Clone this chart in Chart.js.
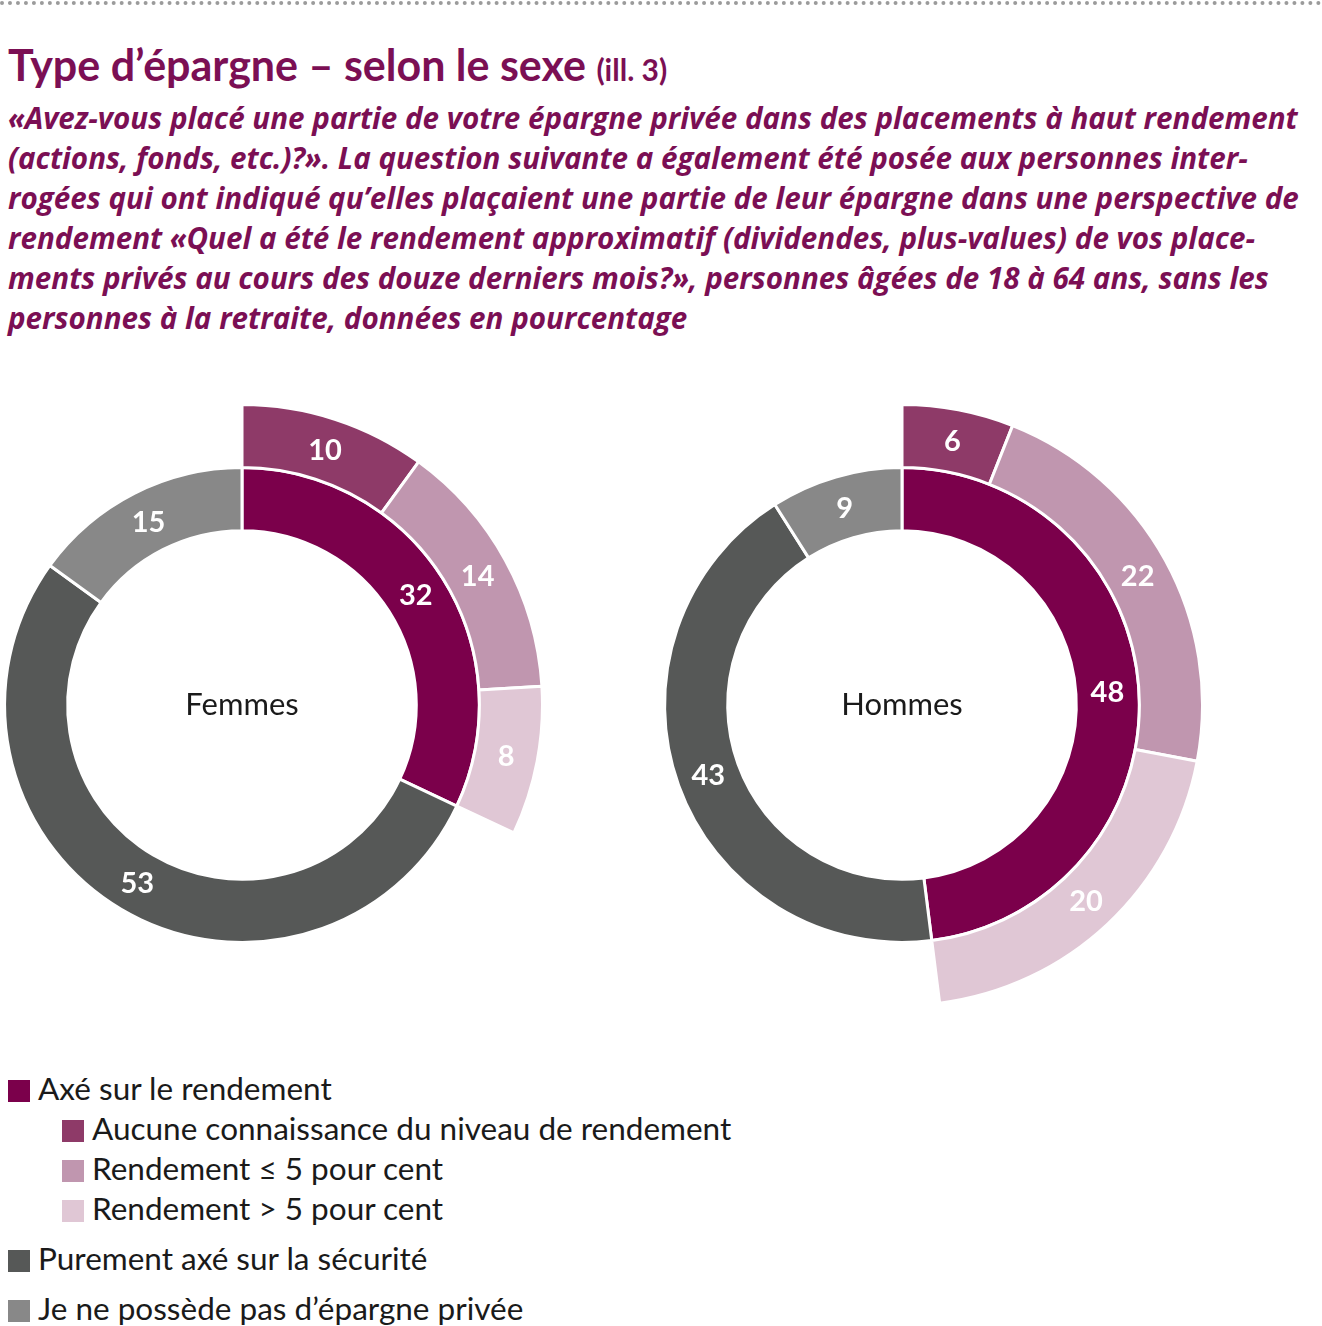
<!DOCTYPE html>
<html lang="fr">
<head>
<meta charset="utf-8">
<title>Type d’épargne – selon le sexe</title>
<script src="https://cdn.jsdelivr.net/npm/chart.js@4.4.1/dist/chart.umd.min.js"></script>
<style>
  html, body { margin: 0; padding: 0; background: #fff; }
  body { width: 1322px; height: 1326px; position: relative; overflow: hidden; font-family: Lato, "Open Sans", sans-serif; }
  .dots { position: absolute; left: 0; right: 0; top: 1px; border-top: 4px dotted #9b9b9b; }
  h1 { position: absolute; left: 8px; top: 38px; margin: 0; font-size: 43px; font-weight: 700; color: #7b0f54; line-height: 54px; white-space: nowrap; }
  h1 small { font-size: 30px; }
  .sub { position: absolute; left: 8px; top: 98px; margin: 0; font-family: "Open Sans", sans-serif; font-size: 29.6px; font-weight: 700; font-style: italic; color: #7b0f54; line-height: 40px; white-space: nowrap; }
  .ring { position: absolute; top: 403px; width: 604px; height: 604px; }
  #legend { position: absolute; left: 8px; top: 1068px; }
  .row { height: 40px; line-height: 40px; font-size: 31.5px; color: #1a1a1a; white-space: nowrap; }
  .row.gap { margin-top: 10px; }
  .row.sub-item { padding-left: 54px; }
  .row span { display: inline-block; width: 22px; height: 22px; margin-right: 8px; vertical-align: -2px; }
</style>
</head>
<body>
<div class="dots"></div>
<h1>Type d’épargne – selon le sexe <small>(ill. 3)</small></h1>
<p class="sub">«Avez-vous placé une partie de votre épargne privée dans des placements à haut rendement<br>(actions, fonds, etc.)?». La question suivante a également été posée aux personnes inter-<br>rogées qui ont indiqué qu’elles plaçaient une partie de leur épargne dans une perspective de<br>rendement «Quel a été le rendement approximatif (dividendes, plus-values) de vos place-<br>ments privés au cours des douze derniers mois?», personnes âgées de 18 à 64 ans, sans les<br>personnes à la retraite, données en pourcentage</p>

<div class="ring" style="left:-60px"><canvas id="femmes"></canvas></div>
<div class="ring" style="left:600px"><canvas id="hommes"></canvas></div>
<div id="legend"></div>

<script>
const groups = ["Femmes", "Hommes"];
const mainCategories = ["Axé sur le rendement", "Purement axé sur la sécurité", "Je ne possède pas d’épargne privée"];
const yieldCategories = ["Aucune connaissance du niveau de rendement", "Rendement ≤ 5 pour cent", "Rendement > 5 pour cent"];

const mainFemmes = [32, 53, 15];
const mainHommes = [48, 43, 9];
const yieldFemmes = [10, 14, 8];
const yieldHommes = [6, 22, 20];

const mainColors = ["#7b004b", "#565857", "#888888"];
const yieldColors = ["#8e3a68", "#c096af", "#e0c7d5"];

// white value labels on each arc + group name in the hole
const ringLabels = {
  id: "ringLabels",
  afterDatasetsDraw(chart, args, opts) {
    const ctx = chart.ctx;
    ctx.save();
    ctx.textAlign = "center";
    ctx.textBaseline = "middle";
    ctx.font = "bold 29px Lato";
    ctx.fillStyle = "#fff";
    chart.data.datasets.forEach((ds, i) => {
      chart.getDatasetMeta(i).data.forEach((arc, j) => {
        if (ds.noLabel && ds.noLabel[j]) return;
        const p = arc.getCenterPoint();
        ctx.fillText(ds.data[j], p.x, p.y + 1);
      });
    });
    const a = chart.chartArea;
    ctx.font = "31px Lato";
    ctx.fillStyle = "#1a1a1a";
    ctx.fillText(opts.center, (a.left + a.right) / 2, (a.top + a.bottom) / 2);
    ctx.restore();
  }
};

function drawRing(id, name, main, sub) {
  const rest = main[1] + main[2];
  new Chart(document.getElementById(id), {
    type: "doughnut",
    data: {
      datasets: [
        {
          data: [...sub, rest],
          backgroundColor: [...yieldColors, "rgba(0,0,0,0)"],
          borderColor: "#fff",
          borderWidth: [3, 3, 3, 0],
          noLabel: [false, false, false, true]
        },
        {
          data: main,
          backgroundColor: mainColors,
          borderColor: "#fff",
          borderWidth: 3
        }
      ]
    },
    options: {
      responsive: true,
      maintainAspectRatio: false,
      animation: false,
      events: [],
      cutout: "58%",
      hoverOffset: 0,
      layout: { padding: 0 },
      plugins: {
        legend: { display: false },
        tooltip: { enabled: false },
        ringLabels: { center: name }
      }
    },
    plugins: [ringLabels]
  });
}

drawRing("femmes", groups[0], mainFemmes, yieldFemmes);
drawRing("hommes", groups[1], mainHommes, yieldHommes);

// legend
const legend = document.getElementById("legend");
function addRow(text, color, cls) {
  const row = document.createElement("div");
  row.className = "row " + cls;
  const box = document.createElement("span");
  box.style.background = color;
  row.appendChild(box);
  row.appendChild(document.createTextNode(text));
  legend.appendChild(row);
}
addRow(mainCategories[0], mainColors[0], "");
yieldCategories.forEach((c, i) => addRow(c, yieldColors[i], "sub-item"));
addRow(mainCategories[1], mainColors[1], "gap");
addRow(mainCategories[2], mainColors[2], "gap");
</script>
</body>
</html>
